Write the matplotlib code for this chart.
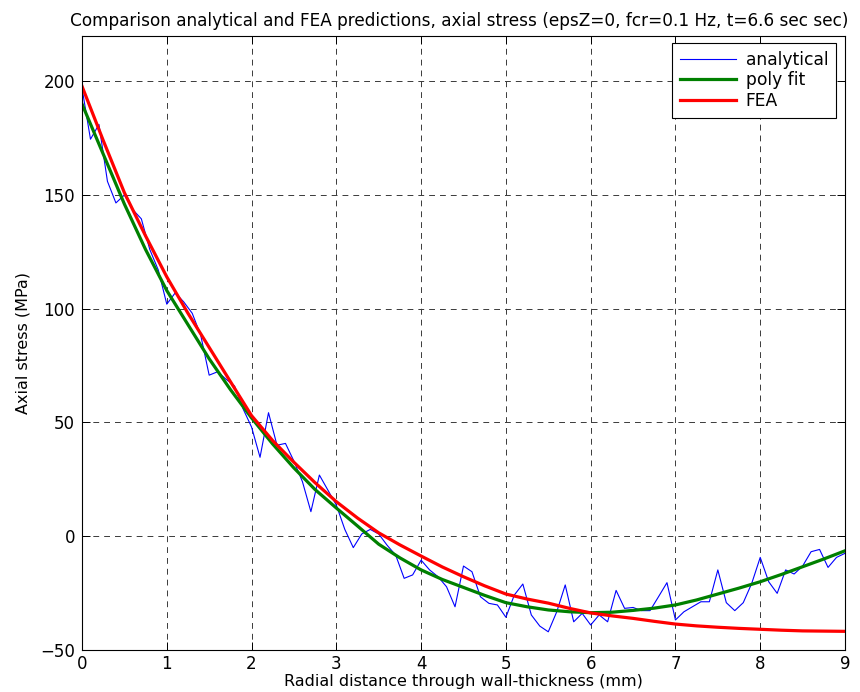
import numpy as np
import matplotlib
matplotlib.use("Agg")
import matplotlib.pyplot as plt

# Radial positions through the wall (mm)
x_analytical = np.round(np.arange(0, 9.01, 0.1), 2)
x_curves = np.round(np.arange(0, 9.01, 0.25), 2)

# Analytical axial stress (MPa), one value per 0.1 mm
analytical = [
    197.0, 174.5, 181.0, 156.0, 146.5, 150.0, 143.5, 139.5, 126.0, 117.0,
    102.0, 107.0, 103.0, 98.0, 88.4, 70.8, 72.3, 69.0, 66.0, 56.0,
    48.0, 34.7, 54.3, 40.0, 40.8, 33.0, 24.0, 10.8, 26.9, 20.3,
    13.7, 3.0, -5.0, 1.0, 3.0, 1.0, -4.0, -8.3, -18.5, -17.0,
    -10.5, -14.8, -17.8, -22.2, -31.0, -13.1, -15.6, -26.6, -29.5, -30.2,
    -35.6, -25.8, -21.0, -34.6, -39.5, -42.0, -33.2, -21.4, -37.6, -33.9,
    -39.0, -34.6, -37.6, -23.8, -31.7, -31.3, -32.7, -32.7, -26.6, -20.4,
    -36.8, -33.2, -31.0, -28.8, -28.8, -14.8, -29.2, -32.7, -29.2, -20.7,
    -9.3, -20.0, -25.1, -14.8, -16.6, -13.1, -6.8, -5.8, -13.7, -9.3,
    -7.5,
]

# Polynomial fit of the analytical solution (MPa), every 0.25 mm
poly_fit = [
    190.0, 168.0, 146.0, 126.0, 108.0, 93.0, 78.0, 64.5, 52.0, 40.5,
    30.0, 20.5, 12.4, 4.5, -3.5, -9.5, -14.8, -19.0, -22.5, -26.0,
    -29.2, -31.0, -32.4, -33.2, -33.6, -33.4, -32.6, -31.6, -30.2, -28.0,
    -25.4, -22.8, -20.0, -16.8, -13.4, -10.0, -6.4,
]

# FEA axial stress (MPa), every 0.25 mm
fea = [
    197.8, 174.0, 151.0, 132.0, 114.0, 98.0, 83.0, 68.0, 53.0, 42.0,
    32.5, 23.5, 15.2, 8.0, 1.5, -3.8, -8.7, -13.5, -17.8, -21.8,
    -25.4, -27.6, -29.4, -31.7, -33.7, -35.0, -36.1, -37.4, -38.6, -39.4,
    -40.0, -40.5, -40.9, -41.3, -41.6, -41.7, -41.8,
]

x_ticks = list(range(0, 10))
y_ticks = [-50, 0, 50, 100, 150, 200]

plt.rcParams["font.family"] = ["DejaVu Sans"]
plt.rcParams["lines.scale_dashes"] = False

fig = plt.figure(figsize=(8.6, 6.92), dpi=100)
ax_h = 614.3 / 692
ax = fig.add_axes([82 / 860, 42 / 692, 763 / 860, ax_h])

ax.plot(x_analytical, analytical, color=(0, 0, 1), lw=0.8, label="analytical")
ax.plot(x_curves, poly_fit, color=(0, 0.5, 0), lw=2.3, label="poly fit")
ax.plot(x_curves, fea, color=(1, 0, 0), lw=2.3, label="FEA")

ax.set_xlim(0, 9)
ax.set_ylim(-50, 220)
ax.set_xticks(x_ticks)
ax.set_yticks(y_ticks)
ax.tick_params(direction="in", length=5.5, width=0.7, top=True, right=True,
               labelsize=12, colors="black")
ax.tick_params(axis="x", pad=3.5)
ax.tick_params(axis="y", pad=5)
ax.grid(True, color="#3a3a3a", lw=0.7, linestyle=(0, (4.2, 3.6)))
for sp in ax.spines.values():
    sp.set_linewidth(0.8)
    sp.set_color("black")

ax.set_title("Comparison analytical and FEA predictions, axial stress "
             "(epsZ=0, fcr=0.1 Hz, t=6.6 sec sec)", fontsize=12.2, pad=7,
             x=0.494)

# x label sits on a baseline just above the lower figure edge
ax.set_xlabel("Radial distance through wall-thickness (mm)", fontsize=11.5)
ax.xaxis.label.set_va("baseline")
ax.xaxis.set_label_coords(0.5, -(36.0 / 692) / ax_h)

ax.set_ylabel("Axial stress (MPa)", fontsize=11.5, labelpad=7)

leg = ax.legend(loc="upper right", bbox_to_anchor=(0.988, 0.988),
                borderaxespad=0, fontsize=12.3, handlelength=3.3,
                handletextpad=0.55, labelspacing=0.15, borderpad=0.45,
                fancybox=False, framealpha=1, edgecolor="black")
leg.get_frame().set_linewidth(0.8)

fig.savefig("out.png", dpi=100)
